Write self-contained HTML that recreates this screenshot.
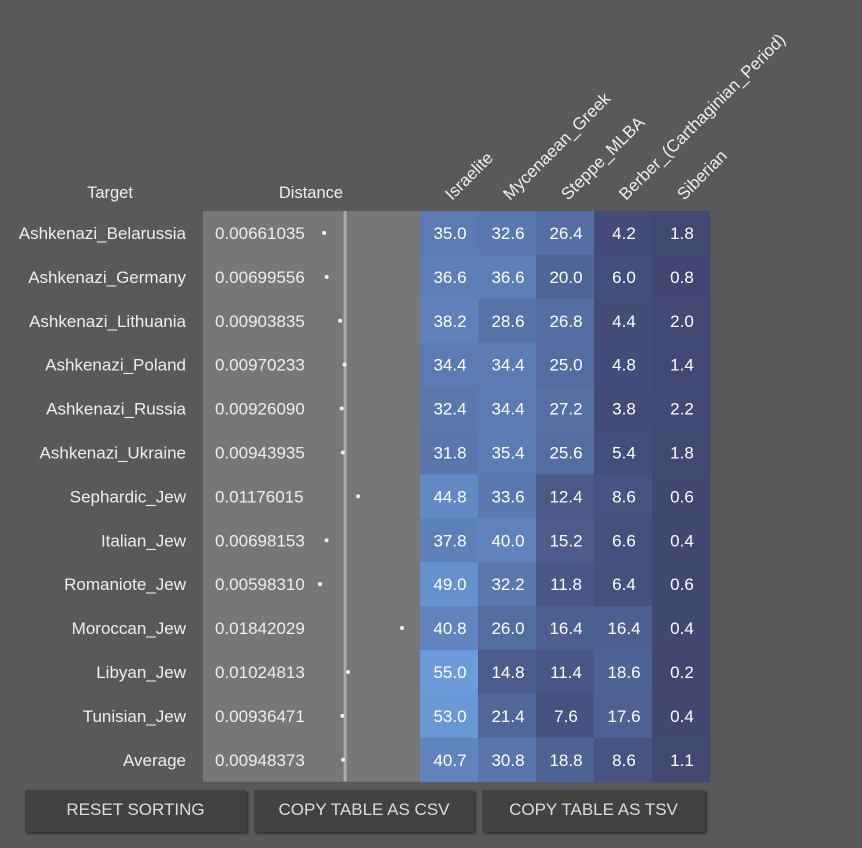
<!DOCTYPE html>
<html><head><meta charset="utf-8"><style>
body{margin:0;width:862px;height:848px;background:#595959;font-family:"Liberation Sans",sans-serif;color:#eee;overflow:hidden;position:relative}
.btn{position:absolute;top:790px;height:42px;background:#424242;color:#ddd;font-size:17px;line-height:40px;text-align:center;box-shadow:2px 2px 2px #333;}
</style></head><body>
<svg id="chart" width="862" height="848" style="position:absolute;left:0;top:0"></svg>
<div class="btn" style="left:25px;width:221px">RESET SORTING</div>
<div class="btn" style="left:254px;width:220px">COPY TABLE AS CSV</div>
<div class="btn" style="left:482px;width:223px">COPY TABLE AS TSV</div>
<script>
const targets=["Ashkenazi_Belarussia","Ashkenazi_Germany","Ashkenazi_Lithuania","Ashkenazi_Poland","Ashkenazi_Russia","Ashkenazi_Ukraine","Sephardic_Jew","Italian_Jew","Romaniote_Jew","Moroccan_Jew","Libyan_Jew","Tunisian_Jew","Average"];
const distances=[0.00661035,0.00699556,0.00903835,0.00970233,0.00926090,0.00943935,0.01176015,0.00698153,0.00598310,0.01842029,0.01024813,0.00936471,0.00948373];
const sources=["Israelite","Mycenaean_Greek","Steppe_MLBA","Berber_(Carthaginian_Period)","Siberian"];
const israelite=[35.0,36.6,38.2,34.4,32.4,31.8,44.8,37.8,49.0,40.8,55.0,53.0,40.7];
const greek=[32.6,36.6,28.6,34.4,34.4,35.4,33.6,40.0,32.2,26.0,14.8,21.4,30.8];
const steppe=[26.4,20.0,26.8,25.0,27.2,25.6,12.4,15.2,11.8,16.4,11.4,7.6,18.8];
const berber=[4.2,6.0,4.4,4.8,3.8,5.4,8.6,6.6,6.4,16.4,18.6,17.6,8.6];
const siberian=[1.8,0.8,2.0,1.4,2.2,1.8,0.6,0.4,0.6,0.4,0.2,0.4,1.1];
const series=[israelite,greek,steppe,berber,siberian];
const NS="http://www.w3.org/2000/svg";
const svg=document.getElementById('chart');
function mk(t,a,txt){const e=document.createElementNS(NS,t);for(const k in a)e.setAttribute(k,a[k]);if(txt!==undefined)e.textContent=txt;svg.appendChild(e);return e;}
const top0=211,rowH=43.9,colX=420,colW=58;
const rowY=i=>top0+i*rowH;
const dX=d=>320+(d-0.00598310)*6592;
const col=v=>{const t=Math.min(v/55,1);return `rgb(${Math.round(64+44*t)},${Math.round(70+84*t)},${Math.round(112+106*t)})`;};
let e;
e=mk('text',{x:110,y:198,'text-anchor':'middle','font-size':16.5,fill:'#eee'},'Target');

e=mk('text',{x:311,y:198,'text-anchor':'middle','font-size':16.5,fill:'#eee'},'Distance');

e=mk('rect',{x:203,y:top0,width:217,height:rowH*targets.length,fill:'#777'});

const avg=distances[distances.length-1];
e=mk('rect',{x:dX(avg)+0.5,y:top0,width:3,height:rowH*targets.length,fill:'#aaa'});

sources.forEach((s,j)=>{const cx=colX+j*colW+colW/2+3;
 e=mk('text',{x:cx,y:201,'font-size':17,fill:'#eee',transform:`rotate(-45 ${cx} 201)`},s);
 });
targets.forEach((t,i)=>{const y=rowY(i),cy=y+rowH/2+6;
 e=mk('text',{x:186,y:cy,'text-anchor':'end','font-size':17,fill:'#eee'},t);
 
 e=mk('text',{x:215,y:cy,'font-size':17,fill:'#eee'},distances[i].toFixed(8));
 
 e=mk('circle',{cx:dX(distances[i]),cy:y+rowH/2,r:2,fill:'#eee'});
 
 series.forEach((arr,j)=>{const x=colX+j*colW;
  e=mk('rect',{x:x,y:y,width:colW,height:rowH+0.5,fill:col(arr[i])});
  
  e=mk('text',{x:x+colW/2+1,y:cy,'text-anchor':'middle','font-size':17,fill:'#fff'},arr[i].toFixed(1));
  
 });
});
</script>
</body></html>
